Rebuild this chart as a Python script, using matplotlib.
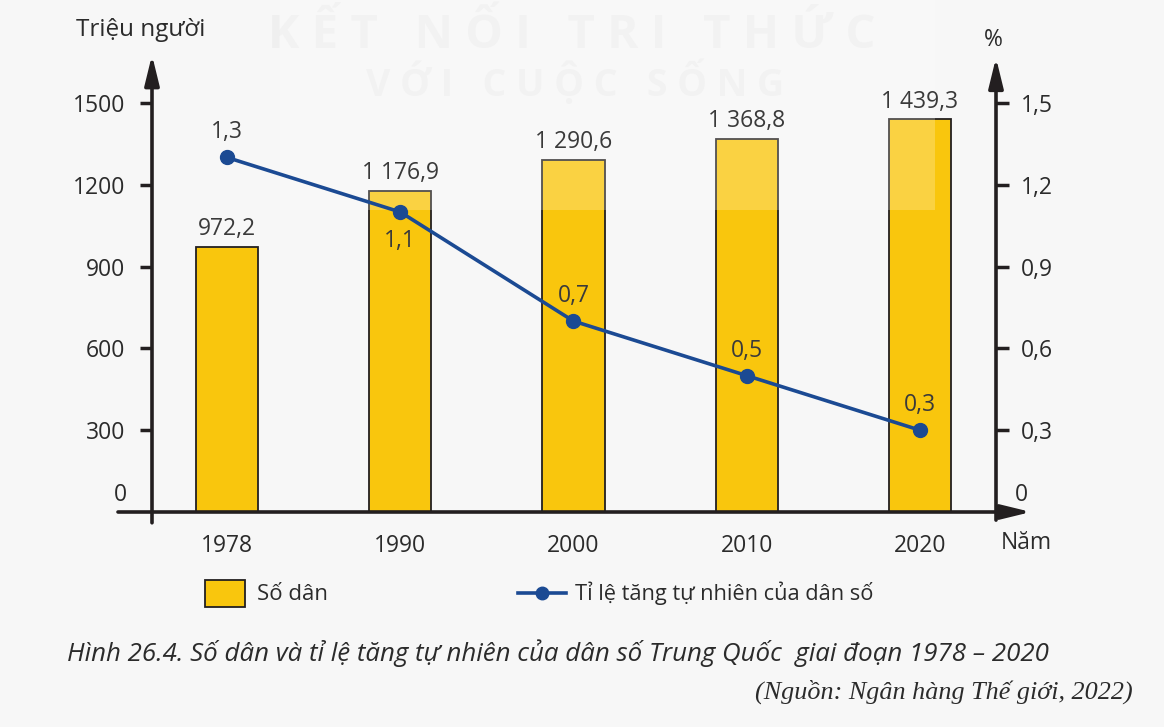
import matplotlib.pyplot as plt
from matplotlib.patches import Rectangle
from matplotlib.lines import Line2D

years = ["1978", "1990", "2000", "2010", "2020"]
population = [972.2, 1176.9, 1290.6, 1368.8, 1439.3]
pop_labels = ["972,2", "1 176,9", "1 290,6", "1 368,8", "1 439,3"]
growth = [1.3, 1.1, 0.7, 0.5, 0.3]
growth_labels = ["1,3", "1,1", "0,7", "0,5", "0,3"]
left_ticks = [300, 600, 900, 1200, 1500]
right_ticks = [0.3, 0.6, 0.9, 1.2, 1.5]
right_tick_labels = ["0,3", "0,6", "0,9", "1,2", "1,5"]

plt.rcParams['font.family'] = ['Open Sans', 'DejaVu Sans']
ink = '#231f20'
txt = '#2b2b2b'
bar_col = '#F9C60D'
line_col = '#1B4A93'

W, H = 1164, 727
fig = plt.figure(figsize=(W / 100, H / 100), dpi=100)
fig.patch.set_facecolor('#F7F7F7')

# watermark (very faint)
fig.text(572 / W, 1 - 36 / H, "K Ế T   N Ố I   T R I   T H Ứ C", fontsize=34, color='#efefef',
         ha='center', va='center', fontweight='bold', zorder=-2)
fig.text(575 / W, 1 - 82 / H, "V Ớ I   C U Ộ C   S Ố N G", fontsize=27, color='#efefef',
         ha='center', va='center', fontweight='bold', zorder=-2)

ax = fig.add_axes([152 / W, 1 - 512 / H, 844 / W, 450 / H])
ax.patch.set_alpha(0)
x = list(range(len(years)))
ax.bar(x, population, width=0.36, color=bar_col, edgecolor=ink, linewidth=1.3, zorder=2)
ax.set_xlim(-0.433, 4.439)
ax.set_ylim(0, 1650)
for s in ax.spines.values():
    s.set_visible(False)
ax.set_yticks(left_ticks)
ax.set_yticklabels([str(t) for t in left_ticks])
ax.tick_params(axis='y', length=9, width=2.5, color=ink, pad=10, labelsize=16.5, labelcolor=txt)
ax.set_xticks(x)
ax.set_xticklabels(years)
ax.tick_params(axis='x', length=0, pad=16, labelsize=16.5, labelcolor=txt)

# lighter watermark band over the bars only
ax.add_patch(Rectangle((280 / W, 1 - 210 / H), 655 / W, 210 / H, transform=fig.transFigure,
                       facecolor='white', alpha=0.22, edgecolor='none', zorder=2.5, clip_on=False))

for xi, v, lab in zip(x, population, pop_labels):
    ax.annotate(lab, (xi, v), xytext=(0, 4), textcoords='offset points', ha='center', va='bottom',
                fontsize=16.5, color='#3a3a3a', zorder=4)

ax2 = ax.twinx()
ax2.set_ylim(0, 1.65)
for s in ax2.spines.values():
    s.set_visible(False)
ax2.set_yticks(right_ticks)
ax2.set_yticklabels(right_tick_labels)
ax2.tick_params(axis='y', length=9, width=2.5, color=ink, pad=9, labelsize=16.5, labelcolor=txt)
ax2.plot(x, growth, color=line_col, lw=2.6, marker='o', ms=10, zorder=3)
for i, (xi, v, lab) in enumerate(zip(x, growth, growth_labels)):
    dy = -21 if i == 1 else 18
    ax2.annotate(lab, (xi, v), xytext=(0, dy), textcoords='offset points', ha='center', va='center',
                 fontsize=16.5, color='#3a3a3a')

# axes lines with arrows
arrow = dict(arrowstyle='-|>,head_length=0.9,head_width=0.22', lw=2.6, color=ink,
             mutation_scale=20, shrinkA=0, shrinkB=0)
ax.annotate('', xy=(0, 1.0156), xytext=(0, -0.024), xycoords='axes fraction',
            arrowprops=arrow, annotation_clip=False)
ax.annotate('', xy=(1, 1.0095), xytext=(1, -0.018), xycoords='axes fraction',
            arrowprops=arrow, annotation_clip=False)
ax.annotate('', xy=(1.0415, 0), xytext=(-0.0403, 0), xycoords='axes fraction',
            arrowprops=arrow, annotation_clip=False)

# zero labels
ax.annotate("0", (0, 0), xycoords='axes fraction', xytext=(-25, 17), textcoords='offset pixels',
            ha='right', va='center', fontsize=16.5, color=txt)
ax.annotate("0", (1, 0), xycoords='axes fraction', xytext=(19, 17), textcoords='offset pixels',
            ha='left', va='center', fontsize=16.5, color=txt)

# axis titles
fig.text(141 / W, 1 - 30 / H, "Triệu người", fontsize=17.5, color=txt, ha='center', va='center')
fig.text(993 / W, 1 - 40 / H, "%", fontsize=16.5, color=txt, ha='center', va='center')
fig.text(1026 / W, 1 - 543 / H, "Năm", fontsize=16.5, color=txt, ha='center', va='center')

# legend
fig.patches.append(Rectangle((205 / W, 1 - 607 / H), 40 / W, 27 / H, transform=fig.transFigure,
                             facecolor=bar_col, edgecolor=ink, linewidth=1.3))
fig.text(257 / W, 1 - 594 / H, "Số dân", fontsize=16, color=txt, ha='left', va='center')
fig.lines.append(Line2D([518 / W, 566 / W], [1 - 593 / H, 1 - 593 / H], transform=fig.transFigure,
                        color=line_col, lw=2.6))
fig.lines.append(Line2D([542 / W], [1 - 593 / H], transform=fig.transFigure, color=line_col,
                        marker='o', ms=9))
fig.text(575 / W, 1 - 593 / H, "Tỉ lệ tăng tự nhiên của dân số", fontsize=15.7, color=txt,
         ha='left', va='center')

# caption
fig.text(67 / W, 1 - 653 / H, "Hình 26.4. Số dân và tỉ lệ tăng tự nhiên của dân số Trung Quốc  giai đoạn 1978 – 2020",
         fontsize=18.6, style='italic', color=txt, ha='left', va='center')
fig.text(1133 / W, 1 - 692 / H, "(Nguồn: Ngân hàng Thế giới, 2022)", fontsize=18.8,
         family=['Liberation Serif', 'DejaVu Serif'], style='italic', color=txt, ha='right', va='center')

fig.savefig("out.png", dpi=100, facecolor=fig.get_facecolor())
